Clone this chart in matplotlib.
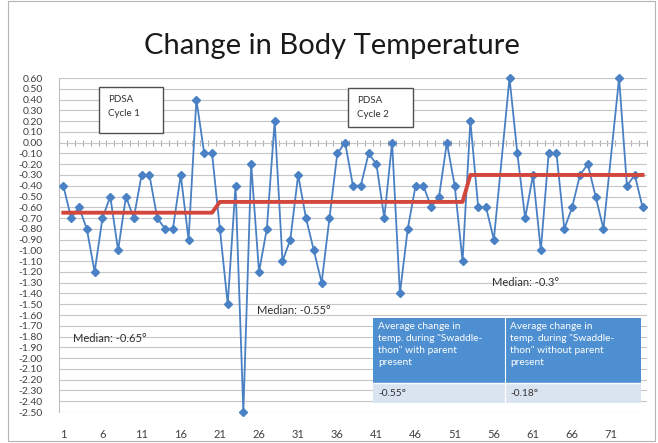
import numpy as np
import pandas as pd
import matplotlib.pyplot as plt
from matplotlib.patches import Rectangle

plt.rcParams['font.family'] = ['Lato', 'DejaVu Sans']

# change in body temperature per swaddle event (no reading for 57 and 71)
temp_change = [-0.40, -0.70, -0.60, -0.80, -1.20, -0.70, -0.50, -1.00, -0.50, -0.70,
               -0.30, -0.30, -0.70, -0.80, -0.80, -0.30, -0.90, 0.40, -0.10, -0.10,
               -0.80, -1.50, -0.40, -2.50, -0.20, -1.20, -0.80, 0.20, -1.10, -0.90,
               -0.30, -0.70, -1.00, -1.30, -0.70, -0.10, 0.00, -0.40, -0.40, -0.10,
               -0.20, -0.70, 0.00, -1.40, -0.80, -0.40, -0.40, -0.60, -0.50, 0.00,
               -0.40, -1.10, 0.20, -0.60, -0.60, -0.90, np.nan, 0.60, -0.10, -0.70,
               -0.30, -1.00, -0.10, -0.10, -0.80, -0.60, -0.30, -0.20, -0.50, -0.80,
               np.nan, 0.60, -0.40, -0.30, -0.60]

# median for each phase and how many events fall in it
phase_median = [-0.65, -0.55, -0.3]
phase_len = [20, 32, 23]

table_head = ['Average change in\ntemp. during "Swaddle-\nthon" with parent\npresent',
              'Average change in\ntemp. during "Swaddle-\nthon" without parent\npresent']
table_vals = ['-0.55°', '-0.18°']

s = pd.Series(temp_change, index=np.arange(1, len(temp_change) + 1))
med = pd.Series(np.repeat(phase_median, phase_len), index=s.index)

W, H = 658, 443
fig = plt.figure(figsize=(W / 100, H / 100), dpi=100)


def fx(x):
    return x / W


def fy(y):
    return 1 - y / H


ax = fig.add_axes([fx(59.4), fy(412), fx(646.5) - fx(59.4), fy(78) - fy(412)])

ymin, ymax = -2.5, 0.6
pts = s.dropna()
ax.plot(pts.index, pts.values, color='#4a80c4', lw=1.3, marker='D', ms=3.8, zorder=3,
        clip_on=False)
ax.plot(med.index, med.values, color='#d2463c', lw=2.8, zorder=4)

ax.set_xlim(0.5, len(s) + 0.5)
ax.set_ylim(ymin, ymax)

yt = np.round(np.arange(ymin, ymax + 0.05, 0.1), 2)
ax.set_yticks(yt)
ax.set_yticklabels([f'{v + 0.0:.2f}' for v in yt], fontsize=7.5, color='#404040')
ax.set_xticks(range(1, len(s) + 1, 5))
ax.tick_params(axis='x', length=0, pad=12, labelsize=8, labelcolor='#404040')
ax.tick_params(axis='y', length=0, pad=12)
ax.grid(axis='y', color='#c6c6c6', lw=0.8)
ax.set_axisbelow(True)
for side in ['top', 'right', 'bottom']:
    ax.spines[side].set_visible(False)
ax.spines['left'].set_color('#bdbdbd')

# category axis crossing at zero with a tick between every event
zero_ax = ax.secondary_xaxis((0 - ymin) / (ymax - ymin))
zero_ax.set_xticks(np.arange(0.5, len(s) + 1, 1))
zero_ax.tick_params(length=5, direction='inout', color='#b0b0b0', labelbottom=False,
                    labeltop=False)
zero_ax.spines['bottom'].set_color('#c0c0c0')
zero_ax.spines['top'].set_visible(False)

fig.text(fx(332), fy(46), 'Change in Body Temperature', fontsize=21, ha='center',
         va='center', color='#1a1a1a')

# PDSA cycle boxes
for (x0, y0, x1, y1), label in [((99.3, 87.3, 162.7, 132.7), 'PDSA\nCycle 1'),
                                ((348.3, 88.3, 412.7, 126.7), 'PDSA\nCycle 2')]:
    fig.patches.append(Rectangle((fx(x0), fy(y1)), fx(x1) - fx(x0), fy(y0) - fy(y1),
                                 transform=fig.transFigure, facecolor='white',
                                 edgecolor='#505050', lw=1.0, zorder=5))
    fig.text(fx(x0 + 9), fy(y0 + 8), label, fontsize=7, va='top', linespacing=1.7,
             color='#303030', zorder=6)

# median labels
for (x, y), m in zip([(73, 339), (257, 310), (492, 282)], phase_median):
    fig.text(fx(x), fy(y), f'Median: {m:g}°', fontsize=8, va='center', color='#303030')

# averages table
tl, tr, tm = 373.3, 640.7, 505
ht, hb, bb = 318.3, 383.3, 403.3
fig.patches.append(Rectangle((fx(tl), fy(hb)), fx(tr) - fx(tl), fy(ht) - fy(hb),
                             transform=fig.transFigure, facecolor='#4d8fd0',
                             edgecolor='none', zorder=5))
fig.patches.append(Rectangle((fx(tl), fy(bb)), fx(tr) - fx(tl), fy(hb) - fy(bb),
                             transform=fig.transFigure, facecolor='#dae4f0',
                             edgecolor='none', zorder=5))
fig.lines.append(plt.Line2D([fx(tm), fx(tm)], [fy(bb), fy(ht)], transform=fig.transFigure,
                            color='white', lw=0.8, zorder=6))
fig.lines.append(plt.Line2D([fx(tl), fx(tr)], [fy(hb), fy(hb)], transform=fig.transFigure,
                            color='white', lw=1.0, zorder=6))
for x0, head, val in zip([tl, tm], table_head, table_vals):
    fig.text(fx(x0 + 5), fy(ht + 4), head, fontsize=7.3, va='top', color='white',
             linespacing=1.4, zorder=7)
    fig.text(fx(x0 + 5), fy((hb + bb) / 2), val, fontsize=7.3, va='center',
             color='#303030', zorder=7)

# chart border
fig.patches.append(Rectangle((fx(8), fy(441)), fx(655) - fx(8), fy(1) - fy(441),
                             transform=fig.transFigure, fill=False,
                             edgecolor='#b5b5b5', lw=0.8))

fig.savefig('out.png', dpi=100)
